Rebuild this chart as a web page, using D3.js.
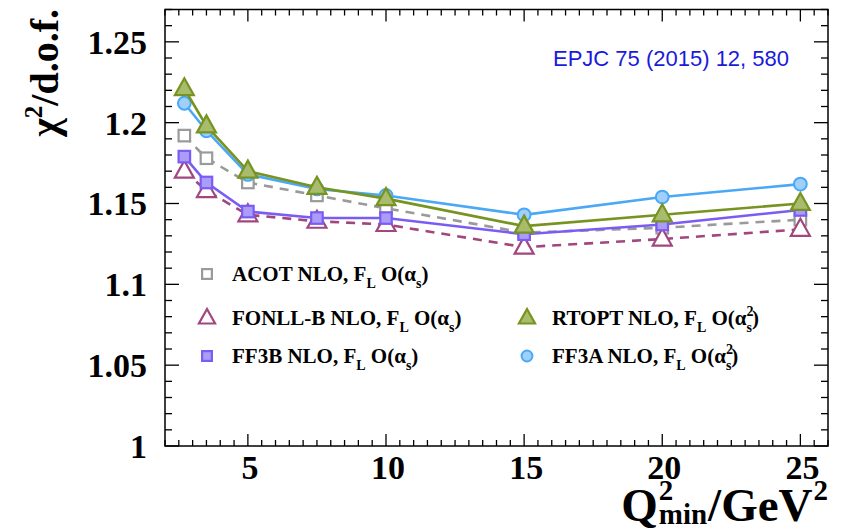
<!DOCTYPE html>
<html>
<head>
<meta charset="utf-8">
<script src="https://cdn.jsdelivr.net/npm/d3@7"></script>
<style>
  html, body { margin: 0; padding: 0; background: #fff; }
  svg { display: block; }
</style>
</head>
<body>
<script>
// Q^2_min cuts and chi^2 per degree of freedom for each heavy-flavour scheme
const q2min = [2.7, 3.5, 5, 7.5, 10, 15, 20, 25];
const acot   = [1.192, 1.178, 1.163, 1.155, 1.147, 1.132, 1.135, 1.140];
const fonll  = [1.170, 1.158, 1.143, 1.139, 1.137, 1.123, 1.128, 1.134];
const ff3b   = [1.179, 1.163, 1.145, 1.141, 1.141, 1.131, 1.137, 1.146];
const rtopt  = [1.221, 1.198, 1.170, 1.160, 1.153, 1.136, 1.143, 1.150];
const ff3a   = [1.212, 1.195, 1.168, 1.159, 1.155, 1.143, 1.154, 1.162];

const yTickValues = [1, 1.05, 1.1, 1.15, 1.2, 1.25];
const yTickLabels = ["1", "1.05", "1.1", "1.15", "1.2", "1.25"];
const xTickValues = [5, 10, 15, 20, 25];
const xTickLabels = ["5", "10", "15", "20", "25"];

const W = 843, H = 531;
const frame = { left: 165, right: 828, top: 9.5, bottom: 446 };

const svg = d3.select("body").append("svg").attr("width", W).attr("height", H);

const x = d3.scaleLinear().domain([2, 26]).range([frame.left, frame.right]);
const y = d3.scaleLinear().domain([1, 1.27]).range([frame.bottom, frame.top]);

const serif = "'Liberation Serif', 'Times New Roman', serif";

// minor / major ticks on all four sides
const g = svg.append("g").attr("stroke", "#000").attr("stroke-width", 1.3);
d3.range(1, 1.2701, 0.01).forEach(v => {
  const major = Math.abs(Math.round(v * 20) - v * 20) < 1e-6;
  const len = major ? 14 : 7;
  g.append("line").attr("x1", frame.left).attr("x2", frame.left + len).attr("y1", y(v)).attr("y2", y(v));
  g.append("line").attr("x1", frame.right).attr("x2", frame.right - len).attr("y1", y(v)).attr("y2", y(v));
});
d3.range(2, 26.001, 0.5).forEach(v => {
  const major = Math.abs(v % 5) < 1e-6;
  const len = major ? 12 : 6;
  g.append("line").attr("x1", x(v)).attr("x2", x(v)).attr("y1", frame.bottom).attr("y2", frame.bottom - len);
  g.append("line").attr("x1", x(v)).attr("x2", x(v)).attr("y1", frame.top).attr("y2", frame.top + len);
});

svg.append("rect")
  .attr("x", frame.left).attr("y", frame.top)
  .attr("width", frame.right - frame.left).attr("height", frame.bottom - frame.top)
  .attr("fill", "none").attr("stroke", "#000").attr("stroke-width", 1.5);

// tick labels
svg.append("g").selectAll("text").data(yTickValues).join("text")
  .attr("x", 147).attr("y", d => y(d)).attr("dy", "0.35em")
  .attr("text-anchor", "end")
  .attr("font-family", serif).attr("font-weight", "bold").attr("font-size", 34)
  .text((d, i) => yTickLabels[i]);

svg.append("g").selectAll("text").data(xTickValues).join("text")
  .attr("x", d => x(d) + 2).attr("y", 479)
  .attr("text-anchor", "middle")
  .attr("font-family", serif).attr("font-weight", "bold").attr("font-size", 34)
  .text((d, i) => xTickLabels[i]);

// y axis title
const yt = svg.append("text")
  .attr("transform", "translate(58,9) rotate(-90)")
  .attr("text-anchor", "end")
  .attr("font-family", serif).attr("font-weight", "bold").attr("font-size", 40);
yt.append("tspan").text("χ");
yt.append("tspan").attr("font-size", 25).attr("dy", -16).text("2");
yt.append("tspan").attr("dy", 16).text("/d.o.f.");

// x axis title, laid out piece by piece and right-aligned to the frame
const xtG = svg.append("g");
const big = 47, small = 29, base = 521;
function piece(str, size, px, py) {
  return xtG.append("text").attr("x", px).attr("y", py)
    .attr("font-family", serif).attr("font-weight", "bold").attr("font-size", size).text(str);
}
let cx = 0;
const tQ = piece("Q", big, cx, base);
cx += tQ.node().getComputedTextLength() + 1;
const tSup = piece("2", small, cx, base - 21);
const tSub = piece("min", small, cx, base + 3);
cx += Math.max(tSup.node().getComputedTextLength(), tSub.node().getComputedTextLength()) + 1;
const tGeV = piece("/GeV", big, cx, base);
cx += tGeV.node().getComputedTextLength() + 1;
const tSup2 = piece("2", small, cx, base - 21);
cx += tSup2.node().getComputedTextLength();
xtG.attr("transform", `translate(${frame.right - cx},0)`);

// reference annotation
svg.append("text")
  .attr("x", 553).attr("y", 66)
  .attr("font-family", "'Liberation Sans', Arial, sans-serif").attr("font-size", 22)
  .attr("fill", "#1a1adc")
  .text("EPJC 75 (2015) 12, 580");

// series styles
const series = [
  { name: "ACOT",    vals: acot,  stroke: "#9a9a9a", fill: "#fff",    dash: "9,7", shape: "square",   label: ["ACOT NLO, F", "L", " O(α", "s", "", ")"] },
  { name: "FONLL-B", vals: fonll, stroke: "#a2467e", fill: "#fff",    dash: "9,7", shape: "triangle", label: ["FONLL-B NLO, F", "L", " O(α", "s", "", ")"] },
  { name: "FF3B",    vals: ff3b,  stroke: "#7a5cf5", fill: "#ab9cf8", dash: null,  shape: "square",   label: ["FF3B NLO, F", "L", " O(α", "s", "", ")"] },
  { name: "FF3A",    vals: ff3a,  stroke: "#4aa8f5", fill: "#9fd0fa", dash: null,  shape: "circle",   label: ["FF3A NLO, F", "L", " O(α", "s", "2", ")"] },
  { name: "RTOPT",   vals: rtopt, stroke: "#779320", fill: "#a9bb6c", dash: null,  shape: "triangle", label: ["RTOPT NLO, F", "L", " O(α", "s", "2", ")"] }
];

const line = d3.line().x(d => x(d[0])).y(d => y(d[1]));

function marker(sel, s, cx, cy, scale) {
  const k = scale || 1;
  if (s.shape === "square") {
    const a = 11.5 * k;
    sel.append("rect").attr("x", cx - a / 2).attr("y", cy - a / 2).attr("width", a).attr("height", a)
      .attr("fill", s.fill).attr("stroke", s.stroke).attr("stroke-width", 2.2);
  } else if (s.shape === "circle") {
    sel.append("circle").attr("cx", cx).attr("cy", cy).attr("r", 6.4 * k)
      .attr("fill", s.fill).attr("stroke", s.stroke).attr("stroke-width", 2);
  } else {
    const h = 17 * k, w = 19 * k;
    const pts = [[cx, cy - h * 0.62], [cx - w / 2, cy + h * 0.38], [cx + w / 2, cy + h * 0.38]];
    sel.append("path").attr("d", "M" + pts.map(p => p.join(",")).join("L") + "Z")
      .attr("fill", s.fill).attr("stroke", s.stroke).attr("stroke-width", 2.2).attr("stroke-linejoin", "miter");
  }
}

series.forEach(s => {
  const gs = svg.append("g");
  gs.append("path").datum(q2min.map((q, i) => [q, s.vals[i]]))
    .attr("d", line).attr("fill", "none")
    .attr("stroke", s.stroke).attr("stroke-width", 2.6)
    .attr("stroke-dasharray", s.dash);
  q2min.forEach((q, i) => marker(gs, s, x(q), y(s.vals[i])));
});

// legend
const legendPos = {
  "ACOT":    [207, 274],
  "FONLL-B": [207, 318],
  "RTOPT":   [527, 318],
  "FF3B":    [207, 356],
  "FF3A":    [527, 356]
};
series.forEach(s => {
  const [lx, ly] = legendPos[s.name];
  marker(svg, s, lx, ly, 0.85);
  const t = svg.append("text").attr("x", lx + 25).attr("y", ly + 7)
    .attr("font-family", serif).attr("font-weight", "bold").attr("font-size", 21);
  const [a, sub1, b, sub2, sup, c] = s.label;
  t.append("tspan").text(a);
  t.append("tspan").attr("font-size", 14).attr("dy", 7).text(sub1);
  t.append("tspan").attr("dy", -7).text(b);
  if (sup) {
    t.append("tspan").attr("font-size", 14).attr("dy", -9).text(sup);
    t.append("tspan").attr("font-size", 14).attr("dx", -7).attr("dy", 16).text(sub2);
    t.append("tspan").attr("dy", -7).text(c);
  } else {
    t.append("tspan").attr("font-size", 14).attr("dy", 7).text(sub2);
    t.append("tspan").attr("dy", -7).text(c);
  }
});
</script>
</body>
</html>
